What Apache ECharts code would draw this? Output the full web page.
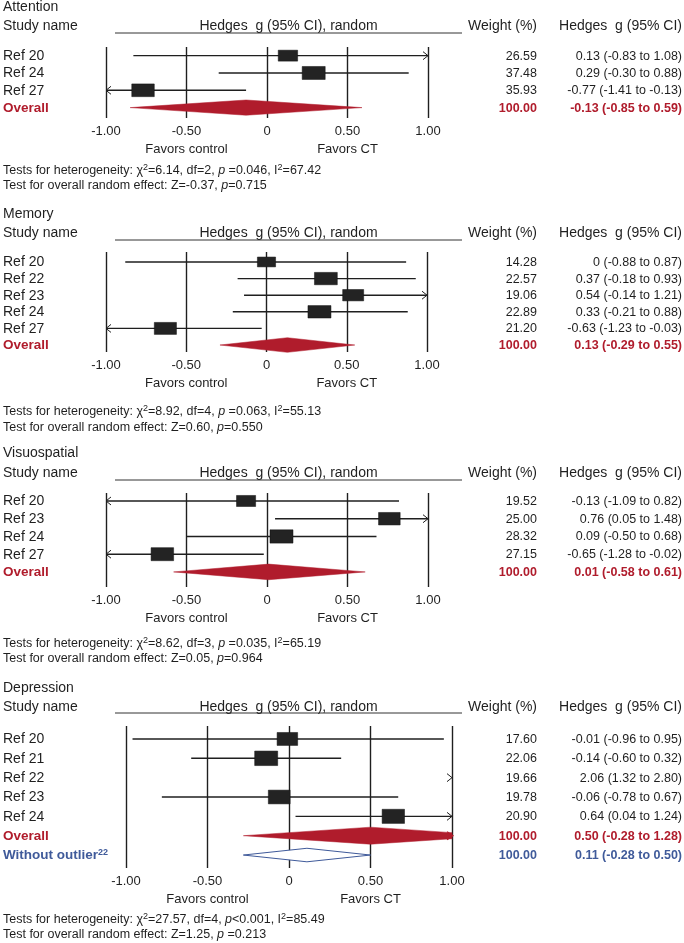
<!DOCTYPE html>
<html><head><meta charset="utf-8">
<script src="https://cdn.jsdelivr.net/npm/echarts@6/dist/echarts.min.js"></script>
<style>html,body{margin:0;padding:0;background:#fff}#c{width:684px;height:943px}</style>
</head><body><div id="c"></div>
<script>
// ---------- data ----------
const tickLabels = ['-1.00', '-0.50', '0', '0.50', '1.00'];
const favorLabels = ['Favors control', 'Favors CT'];
const panelTitles = ['Attention', 'Memory', 'Visuospatial', 'Depression'];

const attentionNames = ['Ref 20', 'Ref 24', 'Ref 27', 'Overall'];
const attentionEst = [0.13, 0.29, -0.77, -0.13];
const attentionLow = [-0.83, -0.30, -1.41, -0.85];
const attentionHigh = [1.08, 0.88, -0.13, 0.59];
const attentionWeight = [26.59, 37.48, 35.93, 100.00];
const attentionTests = ['Tests for heterogeneity: χ{s|2}=6.14, df=2, {i|p} =0.046, I{s|2}=67.42',
                        'Test for overall random effect: Z=-0.37, {i|p}=0.715'];

const memoryNames = ['Ref 20', 'Ref 22', 'Ref 23', 'Ref 24', 'Ref 27', 'Overall'];
const memoryEst = [0, 0.37, 0.54, 0.33, -0.63, 0.13];
const memoryLow = [-0.88, -0.18, -0.14, -0.21, -1.23, -0.29];
const memoryHigh = [0.87, 0.93, 1.21, 0.88, -0.03, 0.55];
const memoryWeight = [14.28, 22.57, 19.06, 22.89, 21.20, 100.00];
const memoryTests = ['Tests for heterogeneity: χ{s|2}=8.92, df=4, {i|p} =0.063, I{s|2}=55.13',
                     'Test for overall random effect: Z=0.60, {i|p}=0.550'];

const visuoNames = ['Ref 20', 'Ref 23', 'Ref 24', 'Ref 27', 'Overall'];
const visuoEst = [-0.13, 0.76, 0.09, -0.65, 0.01];
const visuoLow = [-1.09, 0.05, -0.50, -1.28, -0.58];
const visuoHigh = [0.82, 1.48, 0.68, -0.02, 0.61];
const visuoWeight = [19.52, 25.00, 28.32, 27.15, 100.00];
const visuoTests = ['Tests for heterogeneity: χ{s|2}=8.62, df=3, {i|p} =0.035, I{s|2}=65.19',
                    'Test for overall random effect: Z=0.05, {i|p}=0.964'];

const depressionNames = ['Ref 20', 'Ref 21', 'Ref 22', 'Ref 23', 'Ref 24', 'Overall', 'Without outlier'];
const depressionSup = ['', '', '', '', '', '', '22'];
const depressionEst = [-0.01, -0.14, 2.06, -0.06, 0.64, 0.50, 0.11];
const depressionLow = [-0.96, -0.60, 1.32, -0.78, 0.04, -0.28, -0.28];
const depressionHigh = [0.95, 0.32, 2.80, 0.67, 1.24, 1.28, 0.50];
const depressionWeight = [17.60, 22.06, 19.66, 19.78, 20.90, 100.00, 100.00];
const depressionTests = ['Tests for heterogeneity: χ{s|2}=27.57, df=4, {i|p}<0.001, I{s|2}=85.49',
                         'Test for overall random effect: Z=1.25, {i|p} =0.213'];

// ---------- styling / layout ----------
const FONT = "'Liberation Sans', Arial, Helvetica, sans-serif";
const INK = '#1f1f1f';
const RED = '#b01c2c';
const BLUE = '#3f5a9a';

const panels = [
  {names: attentionNames, est: attentionEst, low: attentionLow, high: attentionHigh, weight: attentionWeight, tests: attentionTests},
  {names: memoryNames, est: memoryEst, low: memoryLow, high: memoryHigh, weight: memoryWeight, tests: memoryTests},
  {names: visuoNames, est: visuoEst, low: visuoLow, high: visuoHigh, weight: visuoWeight, tests: visuoTests},
  {names: depressionNames, sup: depressionSup, est: depressionEst, low: depressionLow, high: depressionHigh, weight: depressionWeight, tests: depressionTests}
];
const layouts = [
  {titleY: 7.5, studyY: 26, lineY: 33, top: 47, bottom: 118, left: 106, right: 428, ymin: -0.5, ymax: 3.6, testsY: [170.5, 185.5]},
  {titleY: 214, studyY: 233, lineY: 240, top: 252, bottom: 352, left: 106, right: 427, ymin: -0.6, ymax: 5.42, testsY: [411.5, 427.5]},
  {titleY: 453, studyY: 473, lineY: 480, top: 493, bottom: 587, left: 106, right: 428, ymin: -0.45, ymax: 4.85, testsY: [643.5, 658.5]},
  {titleY: 688, studyY: 707, lineY: 713, top: 726, bottom: 868, left: 126, right: 452, ymin: -0.67, ymax: 6.67, testsY: [919.5, 935]}
];

const fmt = v => (v === 0 ? '0' : v.toFixed(2));
const option = {animation: false, backgroundColor: '#fff', grid: [], xAxis: [], yAxis: [], series: [], graphic: []};

panels.forEach((d, k) => {
  const L = layouts[k];
  option.grid.push({left: L.left, top: L.top, width: L.right - L.left, height: L.bottom - L.top, outerBoundsMode: 'none'});
  option.xAxis.push({
    gridIndex: k, type: 'value', min: -1, max: 1, interval: 0.5,
    axisLine: {show: false}, axisTick: {show: false},
    splitLine: {show: true, lineStyle: {color: INK, width: 1.4}},
    axisLabel: {margin: 7, fontSize: 13, color: INK, fontFamily: FONT,
      formatter: v => tickLabels[Math.round((v + 1) * 2)]}
  });
  option.xAxis.push({
    gridIndex: k, type: 'value', min: -1, max: 1, interval: 0.5, position: 'bottom', offset: 0,
    axisLine: {show: false}, axisTick: {show: false}, splitLine: {show: false},
    axisLabel: {margin: 25, fontSize: 13, color: INK, fontFamily: FONT,
      formatter: v => { const j = Math.round((v + 1) * 2); return j === 1 ? favorLabels[0] : (j === 3 ? favorLabels[1] : ''); }}
  });
  option.yAxis.push({gridIndex: k, type: 'value', inverse: true, min: L.ymin, max: L.ymax, show: false, splitLine: {show: false}});

  const studyW = d.weight.filter((w, i) => d.names[i].indexOf('Ref') === 0);
  const maxW = Math.max.apply(null, studyW);

  option.series.push({
    type: 'custom', xAxisIndex: 2 * k, yAxisIndex: k, clip: false, silent: true,
    data: d.est.map((e, i) => [e, i, d.low[i], d.high[i], d.weight[i]]),
    renderItem: (params, api) => {
      const i = params.dataIndex;
      const est = api.value(0), row = api.value(1), lo = api.value(2), hi = api.value(3), w = api.value(4);
      const cs = params.coordSys;
      const xL = cs.x, xR = cs.x + cs.width;
      const cx = v => api.coord([v, row])[0];
      const y = api.coord([0, row])[1];
      const band = api.size([0, 1])[1];
      const name = d.names[i];
      const kind = name === 'Overall' ? 'overall' : (name.indexOf('Without') === 0 ? 'outlier' : 'study');
      const color = kind === 'overall' ? RED : (kind === 'outlier' ? BLUE : INK);
      const weightFont = (kind === 'study' ? '' : 'bold ') + '12.5px ' + FONT;
      const ty = y + 0.5;
      const ch = [];
      // study name
      if (kind === 'outlier') {
        ch.push({type: 'text', style: {x: 3, y: ty, text: '{b|' + name + '}{s|' + d.sup[i] + '}', verticalAlign: 'middle', align: 'left',
          rich: {b: {font: 'bold 13.5px ' + FONT, fill: color, lineHeight: 16},
                 s: {font: 'bold 9px ' + FONT, fill: color, lineHeight: 9, verticalAlign: 'top'}}}});
      } else {
        ch.push({type: 'text', style: {x: 3, y: ty, text: name, fill: color, verticalAlign: 'middle', align: 'left',
          font: (kind === 'study' ? '' : 'bold ') + (kind === 'study' ? '14px ' : '13.5px ') + FONT}});
      }
      // weight and CI columns
      ch.push({type: 'text', style: {x: 537, y: ty, text: w.toFixed(2), fill: color, font: weightFont, align: 'right', verticalAlign: 'middle'}});
      ch.push({type: 'text', style: {x: 682, y: ty, text: fmt(est) + ' (' + fmt(lo) + ' to ' + fmt(hi) + ')', fill: color, font: weightFont, align: 'right', verticalAlign: 'middle'}});

      const a = Math.max(lo, -1), b = Math.min(hi, 1);
      if (kind === 'study') {
        if (a < b) ch.push({type: 'line', shape: {x1: cx(a), y1: y, x2: cx(b), y2: y}, style: {stroke: INK, lineWidth: 1.4}});
        if (lo < -1) ch.push({type: 'polyline', shape: {points: [[xL + 5, y - 4], [xL, y], [xL + 5, y + 4]]}, style: {stroke: INK, lineWidth: 1, fill: null}});
        if (hi > 1) ch.push({type: 'polyline', shape: {points: [[xR - 5, y - 4], [xR, y], [xR - 5, y + 4]]}, style: {stroke: INK, lineWidth: 1, fill: null}});
        if (est >= -1 && est <= 1) {
          const s = Math.sqrt(w / maxW);
          const bw = 23 * s, bh = 0.75 * band * s;
          ch.push({type: 'rect', shape: {x: cx(est) - bw / 2, y: y - bh / 2, width: bw, height: bh}, style: {fill: '#232323', stroke: '#111', lineWidth: 0.5}});
        }
      } else {
        const h = (kind === 'overall' ? 0.88 : 0.7) * band / 2;
        const pts = [[cx(a), y], [cx(est), y - h]];
        if (hi > 1) {
          const f = (hi - 1) / (hi - est);
          pts.push([xR, y - h * f], [xR, y + h * f]);
        } else {
          pts.push([cx(hi), y]);
        }
        pts.push([cx(est), y + h]);
        if (kind === 'overall') {
          ch.push({type: 'polygon', shape: {points: pts}, style: {fill: RED, stroke: RED, lineWidth: 0.5}});
        } else {
          ch.push({type: 'polygon', shape: {points: pts}, style: {fill: '#fff', stroke: BLUE, lineWidth: 1}});
        }
        if (hi > 1) ch.push({type: 'polyline', shape: {points: [[xR - 5, y - 4], [xR + 1, y], [xR - 5, y + 4]]}, style: {stroke: color, lineWidth: 1.2, fill: null}});
      }
      return {type: 'group', children: ch};
    }
  });

  // headers & footers
  option.graphic.push(
    {type: 'text', style: {x: 3, y: L.titleY, text: panelTitles[k], font: '14px ' + FONT, fill: INK, verticalAlign: 'middle'}},
    {type: 'text', style: {x: 3, y: L.studyY, text: 'Study name', font: '14px ' + FONT, fill: INK, verticalAlign: 'middle'}},
    {type: 'text', style: {x: 288.5, y: L.studyY, text: 'Hedges  g (95% CI), random', font: '14px ' + FONT, fill: INK, align: 'center', verticalAlign: 'middle'}},
    {type: 'text', style: {x: 537, y: L.studyY, text: 'Weight (%)', font: '14px ' + FONT, fill: INK, align: 'right', verticalAlign: 'middle'}},
    {type: 'text', style: {x: 682, y: L.studyY, text: 'Hedges  g (95% CI)', font: '14px ' + FONT, fill: INK, align: 'right', verticalAlign: 'middle'}},
    {type: 'line', shape: {x1: 115, y1: L.lineY, x2: 462, y2: L.lineY}, style: {stroke: '#333', lineWidth: 1}}
  );
  d.tests.forEach((t, j) => {
    option.graphic.push({type: 'text', style: {x: 3, y: L.testsY[j], text: t, font: '12.5px ' + FONT, fill: INK, verticalAlign: 'middle', lineHeight: 15,
      rich: {i: {font: 'italic 12.5px ' + FONT, fill: INK, lineHeight: 15},
             s: {font: '9px ' + FONT, fill: INK, lineHeight: 9, verticalAlign: 'top'}}}});
  });
});

const chart = echarts.init(document.getElementById('c'), null, {renderer: 'canvas'});
chart.setOption(option);
</script>
</body></html>
